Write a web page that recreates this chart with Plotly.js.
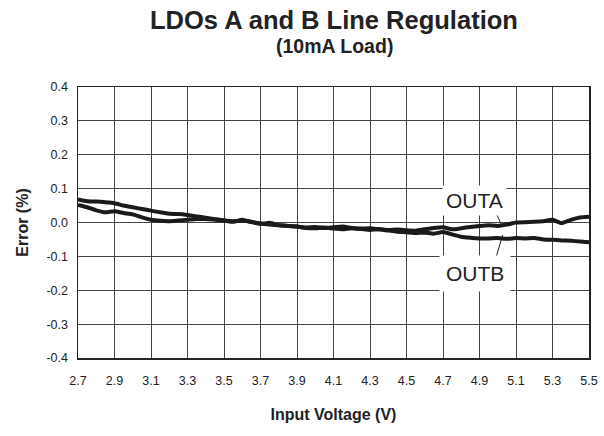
<!DOCTYPE html>
<html>
<head>
<meta charset="utf-8">
<script src="https://cdn.plot.ly/plotly-3.0.1.min.js"></script>
<style>html,body{margin:0;padding:0;background:#fff;}#chart{width:604px;height:436px;}</style>
</head>
<body>
<div id="chart"></div>
<script>
const inputVoltage = [2.70,2.75,2.80,2.85,2.90,2.95,3.00,3.05,3.10,3.15,3.20,3.25,3.30,3.35,3.40,3.45,3.50,3.55,3.60,3.65,3.70,3.75,3.80,3.85,3.90,3.95,4.00,4.05,4.10,4.15,4.20,4.25,4.30,4.35,4.40,4.45,4.50,4.55,4.60,4.65,4.70,4.75,4.80,4.85,4.90,4.95,5.00,5.05,5.10,5.15,5.20,5.25,5.30,5.35,5.40,5.45,5.50];
const outA = [0.068,0.063,0.062,0.060,0.057,0.050,0.045,0.040,0.035,0.030,0.026,0.025,0.022,0.018,0.014,0.010,0.006,0.004,0.005,0.002,-0.003,-0.006,-0.008,-0.010,-0.012,-0.015,-0.013,-0.016,-0.014,-0.012,-0.016,-0.018,-0.017,-0.020,-0.022,-0.021,-0.023,-0.024,-0.020,-0.016,-0.014,-0.020,-0.017,-0.013,-0.010,-0.008,-0.010,-0.006,0.000,0.001,0.002,0.004,0.008,-0.002,0.008,0.015,0.017];
const outB = [0.052,0.045,0.036,0.030,0.033,0.028,0.024,0.015,0.008,0.005,0.004,0.006,0.008,0.010,0.010,0.008,0.006,0.002,0.008,0.001,-0.004,-0.001,-0.008,-0.010,-0.012,-0.016,-0.017,-0.015,-0.018,-0.020,-0.017,-0.019,-0.022,-0.020,-0.024,-0.027,-0.029,-0.031,-0.030,-0.033,-0.028,-0.035,-0.042,-0.045,-0.047,-0.047,-0.046,-0.048,-0.046,-0.047,-0.046,-0.050,-0.051,-0.053,-0.054,-0.056,-0.058];
const xTickVals = [2.7,2.9,3.1,3.3,3.5,3.7,3.9,4.1,4.3,4.5,4.7,4.9,5.1,5.3,5.5];
const xTickText = ["2.7","2.9","3.1","3.3","3.5","3.7","3.9","4.1","4.3","4.5","4.7","4.9","5.1","5.3","5.5"];
const yTickVals = [0.4,0.3,0.2,0.1,0.0,-0.1,-0.2,-0.3,-0.4];
const yTickText = ["0.4","0.3","0.2","0.1","0.0","-0.1","-0.2","-0.3","-0.4"];
const seriesNames = ["OUTA","OUTB"];
const titleText = "LDOs A and B Line Regulation";
const subtitleText = "(10mA Load)";

const lineStyle = {color:'#1a1a1a', width:4, shape:'spline', smoothing:0.5};
const traces = [
  {x:inputVoltage, y:outA, name:seriesNames[0], mode:'lines', line:lineStyle, hoverinfo:'skip'},
  {x:inputVoltage, y:outB, name:seriesNames[1], mode:'lines', line:lineStyle, hoverinfo:'skip'}
];
const fam = '"Liberation Sans", Arial, sans-serif';
const layout = {
  width:604, height:436,
  margin:{l:78, r:15, t:87, b:78},
  paper_bgcolor:'#fff', plot_bgcolor:'#fff',
  showlegend:false,
  font:{family:fam, color:'#222', size:12},
  xaxis:{range:[2.7,5.5], tickvals:xTickVals, ticktext:xTickText, showgrid:true, gridcolor:'#444', gridwidth:1,
    zeroline:false, showline:true, mirror:true, linecolor:'#222', linewidth:1.5, ticks:'', ticklabelstandoff:10,
    tickfont:{size:12.5, color:'#222'},
    title:{text:'<b>Input Voltage (V)</b>', font:{size:16, color:'#222'}, standoff:22}},
  yaxis:{range:[-0.4,0.4], tickvals:yTickVals, ticktext:yTickText, showgrid:true, gridcolor:'#444', gridwidth:1,
    zeroline:false, showline:true, mirror:true, linecolor:'#222', linewidth:1.5, ticks:'', ticklabelstandoff:6,
    tickfont:{size:12.5, color:'#222'},
    title:{text:'<b>Error (%)</b>', font:{size:16, color:'#222'}, standoff:14}},
  shapes:[
    {type:'line', xref:'x', yref:'y', x0:4.985, y0:0.036, x1:5.02, y1:-0.007, line:{color:'#222', width:1}},
    {type:'line', xref:'x', yref:'y', x0:5.027, y0:-0.037, x1:4.983, y1:-0.117, line:{color:'#222', width:1}}
  ],
  annotations:[
    {x:0.501, y:1.247, xref:'paper', yref:'paper', xanchor:'center', yanchor:'middle', text:'<b>'+titleText+'</b>',
      showarrow:false, font:{size:25.5, color:'#222', family:fam}},
    {x:0.501, y:1.151, xref:'paper', yref:'paper', xanchor:'center', yanchor:'middle', text:'<b>'+subtitleText+'</b>',
      showarrow:false, font:{size:19.5, color:'#222', family:fam}},
    {x:4.873, y:0.066, xref:'x', yref:'y', text:seriesNames[0], showarrow:false, bgcolor:'#fff', borderpad:3,
      font:{size:21, color:'#222', family:fam}},
    {x:4.873, y:-0.152, xref:'x', yref:'y', text:seriesNames[1], showarrow:false, bgcolor:'#fff', borderpad:6,
      font:{size:21, color:'#222', family:fam}}
  ]
};
Plotly.newPlot('chart', traces, layout, {staticPlot:true, displayModeBar:false});
</script>
</body>
</html>
